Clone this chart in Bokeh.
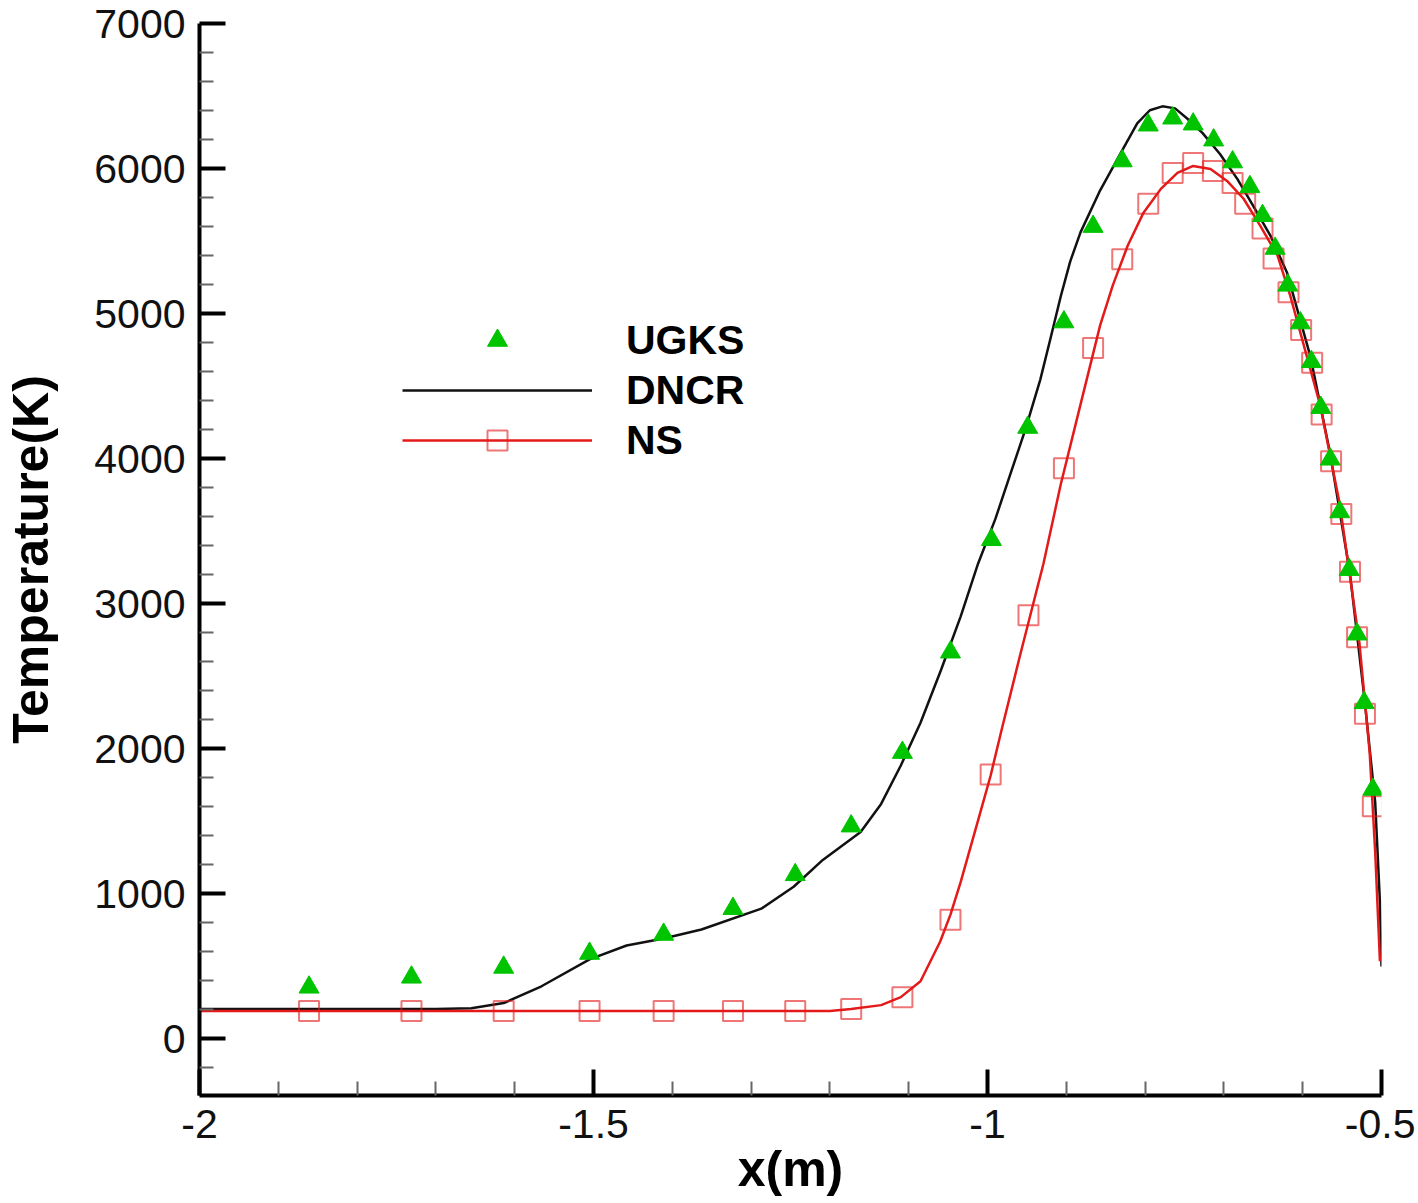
from bokeh.plotting import figure
from bokeh.models import Range1d, FixedTicker, Legend, LegendItem, LinearAxis, CustomJSTickFormatter
from bokeh.embed import file_html
from bokeh.resources import INLINE

# ---------------- data ----------------
ugks_x = [-1.861, -1.731, -1.614, -1.505, -1.411, -1.323, -1.244, -1.173, -1.108, -1.047,
          -0.995, -0.949, -0.903, -0.866, -0.829, -0.796, -0.765, -0.739, -0.713, -0.689,
          -0.667, -0.651, -0.635, -0.619, -0.603, -0.589, -0.577, -0.565, -0.553, -0.541,
          -0.531, -0.522, -0.511]
ugks_y = [356, 425, 493, 589, 720, 898, 1131, 1467, 1974, 2666,
          3441, 4215, 4942, 5600, 6052, 6299, 6347, 6306, 6196, 6045,
          5874, 5675, 5449, 5195, 4935, 4668, 4352, 3996, 3633, 3235,
          2790, 2317, 1720]

ns_x = [-1.861, -1.731, -1.614, -1.505, -1.411, -1.323, -1.244, -1.173, -1.108, -1.047,
        -0.996, -0.948, -0.903, -0.866, -0.829, -0.796, -0.765, -0.739, -0.714, -0.689,
        -0.673, -0.651, -0.637, -0.618, -0.602, -0.588, -0.576, -0.564, -0.551, -0.540,
        -0.531, -0.521, -0.511]
ns_y = [192, 192, 192, 192, 192, 192, 192, 206, 288, 822,
        1823, 2920, 3934, 4763, 5374, 5757, 5970, 6038, 5983, 5901,
        5757, 5586, 5380, 5147, 4887, 4661, 4304, 3982, 3619, 3221,
        2769, 2241, 1604]

dncr_x = [-2.0, -1.700, -1.655, -1.614, -1.566, -1.505, -1.458, -1.411, -1.363, -1.287,
          -1.246, -1.209, -1.161, -1.135, -1.110, -1.085, -1.059, -1.034, -1.012, -0.990,
          -0.971, -0.952, -0.933, -0.920, -0.907, -0.895, -0.882, -0.857, -0.831, -0.810,
          -0.794, -0.778, -0.762, -0.747, -0.727, -0.705, -0.683, -0.663, -0.641, -0.620,
          -0.590, -0.565, -0.540, -0.521, -0.508, -0.502, -0.500]
dncr_y = [206, 206, 212, 247, 363, 548, 644, 692, 754, 898,
          1049, 1234, 1426, 1620, 1885, 2180, 2543, 2913, 3276, 3585,
          3893, 4201, 4545, 4830, 5120, 5360, 5560, 5850, 6107, 6312,
          6402, 6429, 6415, 6347, 6244, 6100, 5929, 5744, 5538, 5284,
          4700, 4030, 3208, 2317, 1631, 946, 500]

ns_line_x = [-2.0, -1.200, -1.173, -1.135, -1.110, -1.085, -1.060, -1.047, -1.034, -1.009,
             -0.996, -0.983, -0.958, -0.929, -0.907, -0.882, -0.857, -0.841, -0.822, -0.802,
             -0.780, -0.759, -0.739, -0.717, -0.696, -0.675, -0.654, -0.632, -0.616, -0.578,
             -0.553, -0.528, -0.515, -0.508, -0.502]
ns_line_y = [192, 192, 206, 233, 288, 398, 672, 857, 1083, 1563,
             1816, 2111, 2659, 3276, 3824, 4373, 4921, 5195, 5470, 5696,
             5860, 5970, 6018, 5997, 5915, 5792, 5607, 5401, 5127, 4373,
             3688, 2728, 1974, 1289, 535]

x_major = [-2.0, -1.5, -1.0, -0.5]
x_minor = [-1.9, -1.8, -1.7, -1.6, -1.4, -1.3, -1.2, -1.1, -0.9, -0.8, -0.7, -0.6]
y_major = [0, 1000, 2000, 3000, 4000, 5000, 6000, 7000]
y_minor = [-200, 200, 400, 600, 800, 1200, 1400, 1600, 1800, 2200, 2400, 2600, 2800,
           3200, 3400, 3600, 3800, 4200, 4400, 4600, 4800, 5200, 5400, 5600, 5800,
           6200, 6400, 6600, 6800]

FONT = "Liberation Sans"

p = figure(width=1415, height=1200, output_backend="svg", toolbar_location=None,
           x_range=Range1d(-2.0, -0.5), y_range=Range1d(-390, 7000),
           x_axis_location=None, y_axis_location=None,
           min_border_left=197, min_border_right=34, min_border_top=23, min_border_bottom=105)
p.grid.visible = False
p.outline_line_color = None
p.background_fill_color = "white"
p.border_fill_color = "white"

xaxis = LinearAxis(ticker=FixedTicker(ticks=x_major, minor_ticks=x_minor),
                   formatter=CustomJSTickFormatter(code="return tick.toString();"))
yaxis = LinearAxis(ticker=FixedTicker(ticks=y_major, minor_ticks=y_minor))
for ax in (xaxis, yaxis):
    ax.axis_line_width = 4
    ax.axis_line_color = "black"
    ax.major_tick_in = 26
    ax.major_tick_out = 0
    ax.major_tick_line_width = 4
    ax.minor_tick_in = 14
    ax.minor_tick_out = 0
    ax.minor_tick_line_width = 2
    ax.minor_tick_line_color = "#666666"
    ax.major_label_text_font = FONT
    ax.major_label_text_font_size = "41px"
    ax.major_label_text_color = "#111111"
    ax.axis_label_text_font = FONT
    ax.axis_label_text_font_style = "bold"
    ax.axis_label_text_font_size = "50px"
    ax.axis_label_text_color = "black"
xaxis.axis_label = "x(m)"
xaxis.major_label_standoff = 14
xaxis.axis_label_standoff = 0
yaxis.axis_label = "Temperature(K)"
yaxis.major_label_standoff = 14
yaxis.axis_label_standoff = 32
p.add_layout(xaxis, "below")
p.add_layout(yaxis, "left")

r_dncr = p.line(dncr_x, dncr_y, line_color="#111111", line_width=2.5)
r_nsl = p.line(ns_line_x, ns_line_y, line_color="#e41a1a", line_width=2.5)
r_nss = p.scatter(ns_x, ns_y, marker="square", size=20, fill_color=None,
                  line_color="#e41a1a", line_alpha=0.6, line_width=2)
r_ugks = p.scatter(ugks_x, ugks_y, marker="triangle", size=20, fill_color="#00c400",
                   line_color="#00c400", line_width=1)

legend = Legend(items=[
    LegendItem(label="UGKS", renderers=[r_ugks]),
    LegendItem(label="DNCR", renderers=[r_dncr]),
    LegendItem(label="NS", renderers=[r_nsl, r_nss]),
], location=(203, 630), orientation="vertical")
legend.glyph_width = 190
legend.glyph_height = 50
legend.label_height = 50
legend.spacing = 0
legend.padding = 0
legend.margin = 0
legend.label_standoff = 34
legend.label_text_font = FONT
legend.label_text_font_style = "bold"
legend.label_text_font_size = "41px"
legend.label_text_color = "black"
legend.border_line_color = None
legend.background_fill_alpha = 0
p.add_layout(legend, "center")

open("out.html", "w").write(file_html(p, INLINE))
